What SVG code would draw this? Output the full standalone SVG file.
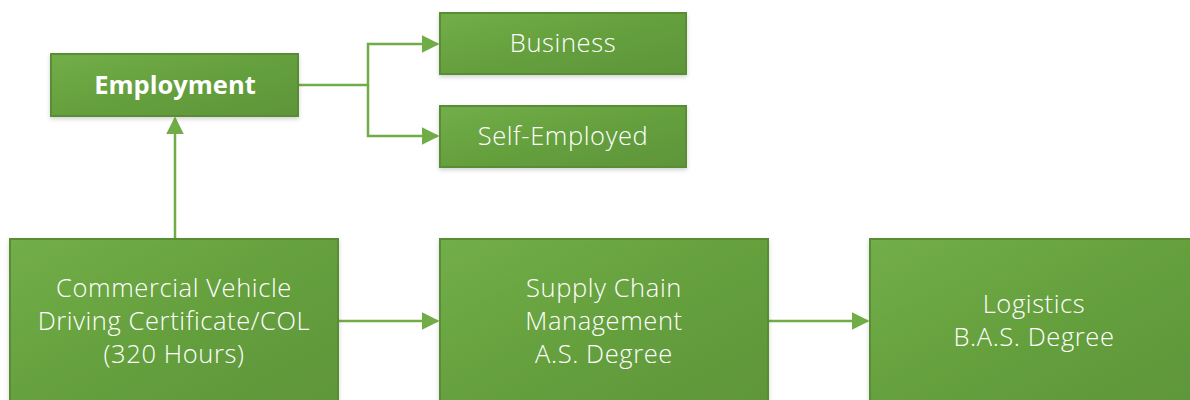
<svg xmlns="http://www.w3.org/2000/svg" width="1190" height="400" viewBox="0 0 1190 400">
<defs>
<linearGradient id="g" x1="0" y1="0" x2="1" y2="1">
<stop offset="0" stop-color="#72ae48"/>
<stop offset="0.5" stop-color="#65a03e"/>
<stop offset="1" stop-color="#5e9539"/>
</linearGradient>
<filter id="sh" x="-10%" y="-10%" width="120%" height="130%">
<feDropShadow dx="0" dy="2" stdDeviation="2" flood-color="#000" flood-opacity="0.18"/>
</filter>
<marker id="ah" markerWidth="7" markerHeight="7" refX="6" refY="3.5" orient="auto" markerUnits="strokeWidth">
<path d="M0,0 L7,3.5 L0,7 Z" fill="#70ad47"/>
</marker>
</defs>
<style>
.box{fill:url(#g);stroke:#588c35;stroke-width:2;filter:url(#sh)}
.t{font-family:"Open Sans","Noto Sans","DejaVu Sans",sans-serif;font-size:25.5px;font-weight:300;fill:#fff;text-anchor:middle;letter-spacing:0.6px}
.b{font-weight:bold;letter-spacing:0}
.c{fill:none;stroke:#70ad47;stroke-width:2.5}
</style>
<g id="connectors">
<path class="c" d="M298,85 H368 V44 H437" marker-end="url(#ah)"/>
<path class="c" d="M368,85 V136 H437" marker-end="url(#ah)"/>
<path class="c" d="M175,238 V119" marker-end="url(#ah)"/>
<path class="c" d="M338,321 H437" marker-end="url(#ah)"/>
<path class="c" d="M768,321 H867" marker-end="url(#ah)"/>
</g>
<g id="employment">
<rect class="box" x="51" y="54" width="247" height="62"/>
<text class="t b" x="175" y="94">Employment</text>
</g>
<g id="business">
<rect class="box" x="440" y="13" width="246" height="61"/>
<text class="t" x="563" y="52">Business</text>
</g>
<g id="self-employed">
<rect class="box" x="440" y="106" width="246" height="61"/>
<text class="t" x="563" y="145">Self-Employed</text>
</g>
<g id="cdl">
<rect class="box" x="10" y="239" width="328" height="175"/>
<text class="t" x="174" y="297">Commercial Vehicle</text>
<text class="t" x="174" y="330">Driving Certificate/COL</text>
<text class="t" x="174" y="363">(320 Hours)</text>
</g>
<g id="scm">
<rect class="box" x="440" y="239" width="328" height="175"/>
<text class="t" x="604" y="297">Supply Chain</text>
<text class="t" x="604" y="330">Management</text>
<text class="t" x="604" y="363">A.S. Degree</text>
</g>
<g id="logistics">
<rect class="box" x="870" y="239" width="328" height="175"/>
<text class="t" x="1034" y="313">Logistics</text>
<text class="t" x="1034" y="346">B.A.S. Degree</text>
</g>
</svg>
